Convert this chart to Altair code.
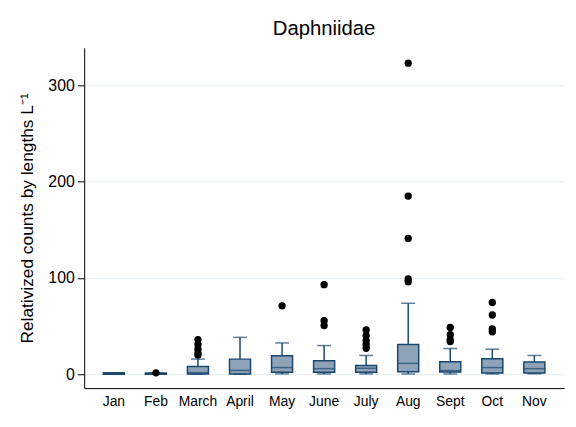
import altair as alt
import pandas as pd

months = ["Jan", "Feb", "March", "April", "May", "June", "July", "Aug", "Sept", "Oct", "Nov"]
q1 = [0, 0, 0.3, 0.3, 2, 2, 2, 2.7, 2.4, 1.3, 1.3]
median = [0.5, 0.5, 1.7, 4, 6.9, 5.8, 6.2, 11.3, 3.8, 6.9, 5.8]
q3 = [1.5, 1.2, 8, 15.7, 19.2, 14, 9, 31, 13, 16, 12.6]
lo = [0, 0, 0, 0, 0.3, 0.3, 0.3, 0.3, 0.3, 0.3, 0.5]
hi = [1.5, 1.2, 15.7, 38.3, 32.5, 29.8, 19.5, 73.7, 26.7, 26, 19.5]

outliers = {
    "Feb": [1.5],
    "March": [36, 31, 26, 22, 20],
    "May": [71],
    "June": [93, 55.5, 50.5],
    "July": [46, 40, 35, 31, 27],
    "Aug": [323, 185, 141, 99, 96],
    "Sept": [48.5, 41, 36, 34],
    "Oct": [74.5, 61.5, 47, 44],
}

stats = pd.DataFrame({"month": months, "q1": q1, "median": median, "q3": q3, "lo": lo, "hi": hi})
out_df = pd.DataFrame([{"month": m, "value": v} for m, vals in outliers.items() for v in vals])

NAVY = "#1a476f"
FILL = "#8fa3b8"
FONT = "Liberation Sans"
YTITLE = "Relativized counts by lengths L\u207b\u00b9"

xscale = alt.Scale(domain=months, paddingInner=0.5, paddingOuter=0.456)
yscale = alt.Scale(domain=[-14.4, 339], nice=False, zero=False)

x = alt.X("month:N", scale=xscale, sort=months,
          axis=alt.Axis(title=None, ticks=False, labelAngle=0, labelPadding=7,
                        labelFontSize=14, labelColor="black", domainColor="black",
                        domainWidth=1, grid=False, labelFont=FONT))
y_axis = alt.Axis(title=YTITLE, values=[0, 100, 200, 300],
                  tickSize=7, tickColor="black", domainColor="black", domainWidth=1,
                  labelFontSize=16, labelColor="black", labelPadding=3, labelFont=FONT,
                  titleFontSize=17.5, titleFontWeight="normal", titleColor="black",
                  titleFont=FONT, titlePadding=12,
                  grid=True, gridColor="#e4edf0", gridWidth=1)


def Y(field):
    return alt.Y(field, scale=yscale, axis=y_axis, title=YTITLE)


base = alt.Chart(stats)

whisk_lo = base.mark_rule(color=NAVY, strokeWidth=1.5).encode(x=x, y=Y("lo:Q"), y2="q1:Q")
whisk_hi = base.mark_rule(color=NAVY, strokeWidth=1.5).encode(x=x, y=Y("q3:Q"), y2="hi:Q")
cap_lo = base.mark_tick(color=NAVY, size=14, thickness=1.5).encode(x=x, y=Y("lo:Q"))
cap_hi = base.mark_tick(color=NAVY, size=14, thickness=1.5).encode(x=x, y=Y("hi:Q"))
box = base.mark_bar(fill=FILL, stroke=NAVY, strokeWidth=1.5).encode(x=x, y=Y("q1:Q"), y2="q3:Q")
med = base.mark_tick(color=NAVY, size=21, thickness=1.5).encode(x=x, y=Y("median:Q"))
pts = alt.Chart(out_df).mark_circle(color="black", size=55, opacity=1).encode(x=x, y=Y("value:Q"))

chart = alt.layer(whisk_lo, whisk_hi, cap_lo, cap_hi, box, med, pts).properties(
    width=485, height=344,
    title=alt.TitleParams("Daphniidae", fontSize=20.5, font=FONT, fontWeight="normal",
                          color="black", anchor="middle", offset=8),
    autosize=alt.AutoSizeParams(type="none"),
    padding={"left": 77, "top": 38, "right": 4, "bottom": 25},
    background="white",
).configure_view(stroke=None).configure_axisY(labelFontSize=16, labelFont=FONT)

chart.save("out.html", embed_options={"renderer": "svg", "actions": False})
